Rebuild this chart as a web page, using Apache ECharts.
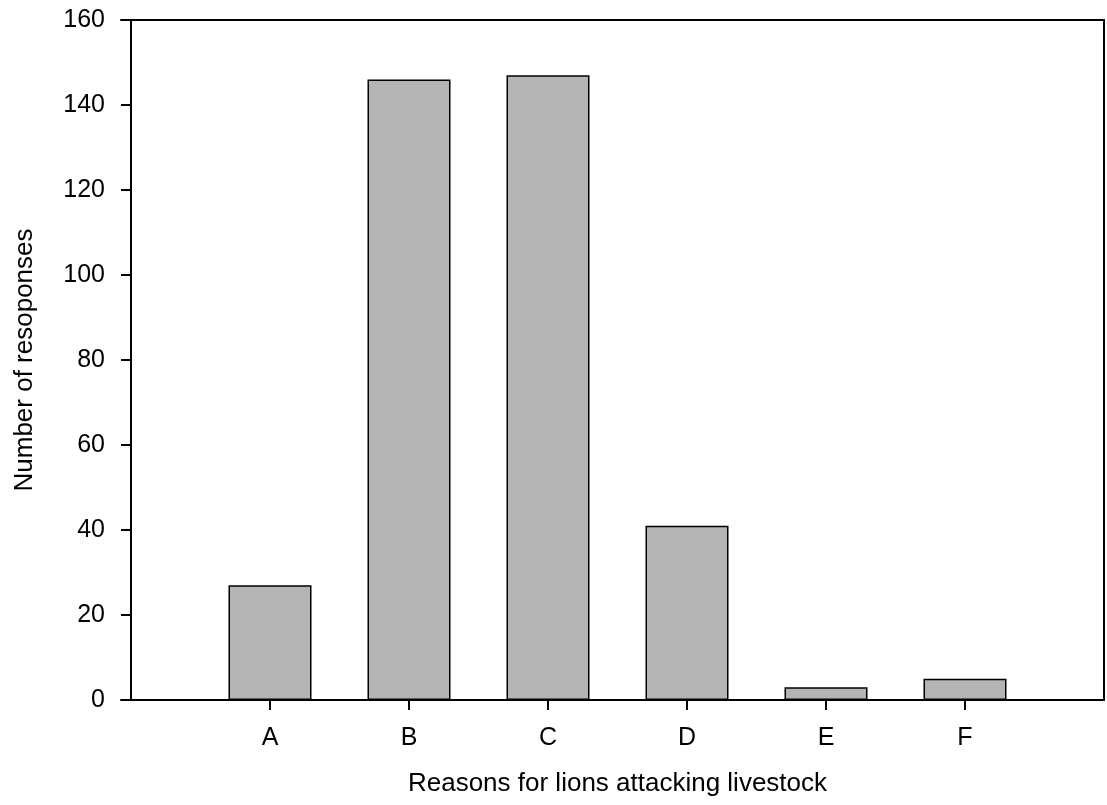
<!DOCTYPE html>
<html>
<head>
<meta charset="utf-8">
<script src="https://cdn.jsdelivr.net/npm/echarts@6/dist/echarts.min.js"></script>
<style>
html,body{margin:0;padding:0;background:#fff;}
#chart{width:1107px;height:805px;}
</style>
</head>
<body>
<div id="chart"></div>
<script>
const categories = ['A', 'B', 'C', 'D', 'E', 'F'];
const responses = [27, 146, 147, 41, 3, 5];
const yTicks = [0, 20, 40, 60, 80, 100, 120, 140, 160];
const xTitle = 'Reasons for lions attacking livestock';
const yTitle = 'Number of resoponses';

// padded slots so the categories sit at 1..6 on a 0..7 frame
const slots = [''].concat(categories, ['']);
const barData = [null].concat(responses, [null]);
const FONT = '"Liberation Sans", Arial, sans-serif';
const BLACK = {color: '#000', width: 2};

const chart = echarts.init(document.getElementById('chart'), null, {renderer: 'canvas'});
chart.setOption({
  animation: false,
  backgroundColor: '#fff',
  grid: [
    {left: 121, right: 3, top: 20, bottom: 105, containLabel: false},
    {left: 131, right: 3, top: 20, bottom: 105, containLabel: false}
  ],
  xAxis: [{
    // frame lines (bottom), extending slightly past the y axis
    gridIndex: 0, type: 'value', position: 'bottom', min: 0, max: 1,
    axisLine: {show: true, onZero: false, lineStyle: BLACK},
    axisTick: {show: false}, axisLabel: {show: false}, splitLine: {show: false}
  }, {
    gridIndex: 0, type: 'value', position: 'top', min: 0, max: 1,
    axisLine: {show: true, onZero: false, lineStyle: BLACK},
    axisTick: {show: false}, axisLabel: {show: false}, splitLine: {show: false}
  }, {
    gridIndex: 1, type: 'category', position: 'bottom',
    data: slots, boundaryGap: false,
    name: xTitle, nameLocation: 'middle', nameGap: 71,
    nameTextStyle: {fontFamily: FONT, fontSize: 26, color: '#000'},
    axisLine: {show: false, onZero: false},
    axisTick: {show: true, inside: false, length: 10, lineStyle: BLACK,
      interval: (i) => i > 0 && i < slots.length - 1},
    axisLabel: {show: true, interval: 0, margin: 26, fontFamily: FONT, fontSize: 25, color: '#000'},
    splitLine: {show: false}
  }],
  yAxis: [{
    gridIndex: 0, type: 'value', min: 0, max: 1, show: false
  }, {
    gridIndex: 1, type: 'value', position: 'left',
    min: yTicks[0], max: yTicks[yTicks.length - 1], interval: yTicks[1] - yTicks[0],
    name: yTitle, nameLocation: 'middle', nameGap: 93, nameRotate: 90,
    nameTextStyle: {fontFamily: FONT, fontSize: 26, color: '#000'},
    axisLine: {show: true, onZero: false, lineStyle: BLACK},
    axisTick: {show: true, inside: false, length: 10, lineStyle: BLACK},
    axisLabel: {show: true, margin: 26, fontFamily: FONT, fontSize: 25, color: '#000'},
    splitLine: {show: false}
  }, {
    gridIndex: 1, type: 'value', position: 'right',
    min: yTicks[0], max: yTicks[yTicks.length - 1], interval: yTicks[1] - yTicks[0],
    axisLine: {show: true, onZero: false, lineStyle: BLACK},
    axisTick: {show: false}, axisLabel: {show: false}, splitLine: {show: false}
  }],
  series: [{
    type: 'bar',
    xAxisIndex: 2,
    yAxisIndex: 1,
    data: barData,
    barWidth: 83,
    itemStyle: {color: '#b4b4b4', borderColor: '#000', borderWidth: 1.5},
    silent: true
  }]
});
</script>
</body>
</html>
